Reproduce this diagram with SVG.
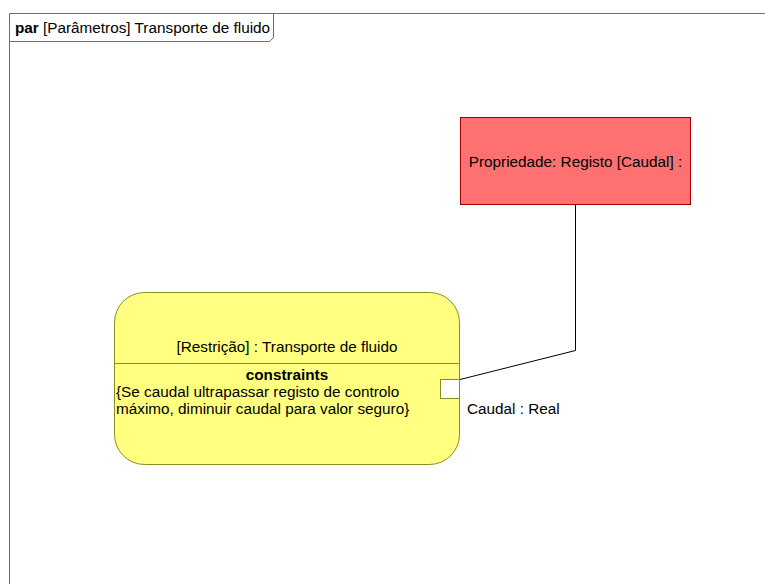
<svg xmlns="http://www.w3.org/2000/svg" width="765" height="584" viewBox="0 0 765 584">
  <style>
    text { font-family: "Liberation Sans", Arial, sans-serif; font-size: 15.3px; fill: #000; }
    .frame { fill: none; stroke: #6e6e6e; stroke-width: 1; }
    .constraint { fill: #ffff80; stroke: #8c8c1e; stroke-width: 1; }
    .property { fill: #ff7070; stroke: #a00000; stroke-width: 1; }
    .port { fill: #ffffff; stroke: #8c8c1e; stroke-width: 1; }
    .conn { fill: none; stroke: #000; stroke-width: 1; }
    .b { font-weight: bold; }
  </style>
  <rect width="765" height="584" fill="#ffffff"/>

  <!-- diagram frame with name tab -->
  <g id="frame">
    <path class="frame" d="M9.5,584 V13.5 H765"/>
    <path class="frame" d="M9.5,41.5 H269.5 L273.5,37.5 V13.5"/>
    <text x="15" y="33"><tspan class="b">par</tspan> [Parâmetros] Transporte de fluido</text>
  </g>

  <!-- connectors -->
  <g id="connectors">
    <polyline class="conn" points="460,379.5 575.5,350.5 575.5,204.5"/>
  </g>

  <!-- constraint block -->
  <g id="restricao">
    <rect class="constraint" x="114.5" y="292.5" width="345" height="172" rx="30" ry="30"/>
    <line x1="114.5" y1="363.5" x2="459.5" y2="363.5" stroke="#8c8c1e"/>
    <text x="287" y="352" text-anchor="middle">[Restrição] : Transporte de fluido</text>
    <text x="287" y="380" text-anchor="middle" class="b">constraints</text>
    <text x="116" y="397">{Se caudal ultrapassar registo de controlo</text>
    <text x="116" y="414">máximo, diminuir caudal para valor seguro}</text>
  </g>

  <!-- port -->
  <g id="porta-caudal">
    <rect class="port" x="440.5" y="379.5" width="19" height="19"/>
    <text x="467" y="414">Caudal : Real</text>
  </g>

  <!-- property block -->
  <g id="propriedade">
    <rect class="property" x="460.5" y="117.5" width="230" height="87"/>
    <text x="575.5" y="167" text-anchor="middle">Propriedade: Registo [Caudal] :</text>
  </g>
</svg>
